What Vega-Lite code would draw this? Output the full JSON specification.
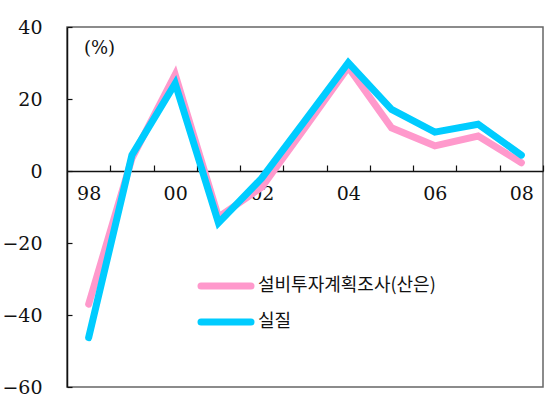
{
  "$schema": "https://vega.github.io/schema/vega-lite/v6.json",
  "width": 476,
  "height": 360,
  "autosize": {"type": "none"},
  "padding": {"left": 67, "top": 27, "right": 5, "bottom": 17},
  "background": "white",
  "config": {
    "font": "DejaVu Serif",
    "view": {"stroke": "#666666", "strokeWidth": 1.5},
    "axis": {"grid": false, "labelFont": "DejaVu Serif", "labelFontSize": 19, "labelColor": "#111", "domainColor": "#111", "tickColor": "#111", "domainWidth": 1.5, "tickWidth": 1.2}
  },
  "data": {
    "values": [
      {"year": 1998, "series": "설비투자계획조사(산은)", "value": -37},
      {"year": 1999, "series": "설비투자계획조사(산은)", "value": 3.5},
      {"year": 2000, "series": "설비투자계획조사(산은)", "value": 26.8},
      {"year": 2001, "series": "설비투자계획조사(산은)", "value": -12.8},
      {"year": 2002, "series": "설비투자계획조사(산은)", "value": -4.5},
      {"year": 2003, "series": "설비투자계획조사(산은)", "value": 12},
      {"year": 2004, "series": "설비투자계획조사(산은)", "value": 28.8},
      {"year": 2005, "series": "설비투자계획조사(산은)", "value": 12},
      {"year": 2006, "series": "설비투자계획조사(산은)", "value": 7},
      {"year": 2007, "series": "설비투자계획조사(산은)", "value": 9.7},
      {"year": 2008, "series": "설비투자계획조사(산은)", "value": 2.3},
      {"year": 1998, "series": "실질", "value": -46.3},
      {"year": 1999, "series": "실질", "value": 4.4},
      {"year": 2000, "series": "실질", "value": 24.3},
      {"year": 2001, "series": "실질", "value": -14.4},
      {"year": 2002, "series": "실질", "value": -2},
      {"year": 2003, "series": "실질", "value": 14},
      {"year": 2004, "series": "실질", "value": 30.1},
      {"year": 2005, "series": "실질", "value": 17.1},
      {"year": 2006, "series": "실질", "value": 10.8},
      {"year": 2007, "series": "실질", "value": 13},
      {"year": 2008, "series": "실질", "value": 4.4}
    ]
  },
  "mark": {"type": "line", "strokeWidth": 7, "strokeJoin": "miter", "strokeCap": "round"},
  "encoding": {
    "x": {
      "field": "year",
      "type": "quantitative",
      "scale": {"domain": [1997.5, 2008.5], "nice": false, "zero": false},
      "axis": {
        "title": null,
        "orient": "bottom",
        "offset": -216,
        "values": [1998, 1999, 2000, 2001, 2002, 2003, 2004, 2005, 2006, 2007, 2008],
        "tickOffset": 21.64,
        "labelOffset": -21.64,
        "tickSize": -6,
        "labelPadding": 19,
        "labelFont": "DejaVu Serif",
        "labelFlush": false,
        "labelOverlap": false,
        "labelExpr": "datum.value % 2 == 0 ? slice(toString(datum.value), 2) : ''"
      }
    },
    "y": {
      "field": "value",
      "type": "quantitative",
      "scale": {"domain": [-60, 40], "nice": false},
      "axis": {
        "values": [-60, -40, -20, 0, 20, 40],
        "tickSize": -5,
        "labelPadding": 30,
        "labelFont": "DejaVu Serif",
        "title": "(%)",
        "titleAngle": 0,
        "titleX": 32,
        "titleY": 21,
        "titleAlign": "center",
        "titleBaseline": "middle",
        "titleFont": "DejaVu Serif",
        "titleFontSize": 18,
        "titleFontWeight": "normal",
        "titleColor": "#111"
      }
    },
    "color": {
      "field": "series",
      "type": "nominal",
      "sort": ["설비투자계획조사(산은)", "실질"],
      "scale": {"domain": ["설비투자계획조사(산은)", "실질"], "range": ["#FF99CC", "#00CCFF"]},
      "legend": {
        "title": null,
        "orient": "none",
        "legendX": 150,
        "legendY": 250,
        "symbolType": "M-5,0L5,0",
        "symbolSize": 100,
        "symbolStrokeWidth": 7,
        "labelFont": "Noto Sans CJK KR",
        "labelFontSize": 18,
        "labelColor": "#111",
        "labelOffset": 23,
        "labelLimit": 400,
        "rowPadding": 8,
        "encode": {"symbols": {"update": {"strokeCap": {"value": "round"}}}}
      }
    }
  }
}
